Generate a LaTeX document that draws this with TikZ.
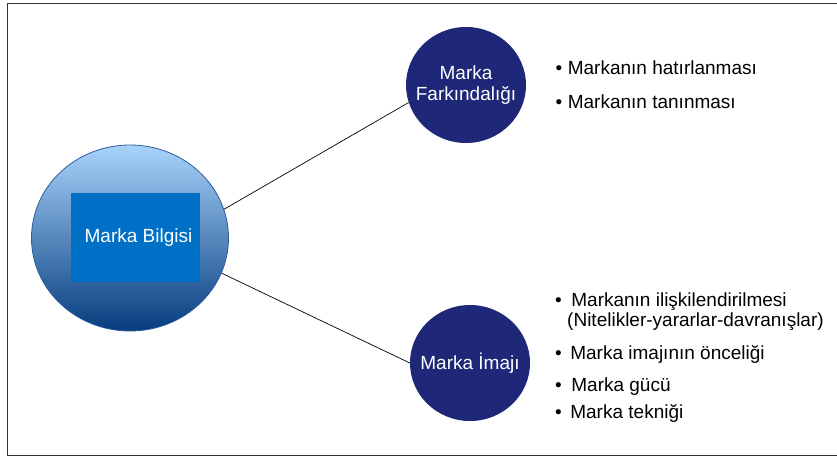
\documentclass[tikz,border=0pt]{standalone}
\usepackage{fontspec}
\setmainfont{Liberation Sans}
\usetikzlibrary{shapes.geometric}

\definecolor{navy}{HTML}{1F2878}
\definecolor{boxblue}{HTML}{0070C6}
\definecolor{ringtop}{HTML}{A8D3FB}
\definecolor{ringmid}{HTML}{72AAE4}
\definecolor{ringbot}{HTML}{063C7E}
\definecolor{ringedge}{HTML}{2C5C9C}

\begin{document}
\begin{tikzpicture}[
      x=1pt, y=-1pt,
      font=\fontsize{19}{21}\selectfont,
      knowledge/.style={ellipse, draw=ringedge, line width=0.8pt, minimum width=197pt, minimum height=186pt,
        top color=ringtop, middle color=ringmid, bottom color=ringbot, inner sep=0pt},
      core/.style={fill=boxblue, text=white, minimum width=129pt, minimum height=89pt, inner sep=0pt},
      branch/.style={ellipse, fill=navy, minimum width=120pt, minimum height=116pt, inner sep=0pt},
      caption/.style={label={[text=white, align=center]center:#1}},
      item/.style={anchor=base west, inner sep=0pt, text=black},
      link/.style={draw=black, line width=0.7pt}
    ]
      \useasboundingbox (0,0) rectangle (837,457);
      \draw[black!80, line width=1.2pt] (7.5,3.5) rectangle (845,455.5);

      \node[knowledge] (mb) at (130,238) {};
      \node[core] (mbox) at (135.5,237.5) {\hspace{6pt}Marka Bilgisi};

      \node[branch, caption={Marka\\Farkındalığı}] (mf) at (466,85) {};
      \node[branch, caption={Marka İmajı}] (mi) at (470,363) {};

      \draw[link] (mb.17) -- (mf.197);
      \draw[link] (mb.-21) -- (mi.180);

      % awareness
      \node[item] (hat) at (555.5,74.5) {\textbullet\hspace{5.5pt}Markanın hatırlanması};
      \node[item] (tan) at (555.5,108.3) {\textbullet\hspace{5.5pt}Markanın tanınması};

      % image
      \node[item] (ilis) at (555,306.5) {\textbullet\hspace{9.5pt}Markanın ilişkilendirilmesi};
      \node[item] (nit) at (567,326) {(Nitelikler-yararlar-davranışlar)};
      \node[item] (onc) at (555,359) {\textbullet\hspace{8.5pt}Marka imajının önceliği};
      \node[item] (guc) at (555,391.5) {\textbullet\hspace{9.5pt}Marka gücü};
      \node[item] (tek) at (555,418.5) {\textbullet\hspace{8.5pt}Marka tekniği};
    \end{tikzpicture}
\end{document}
